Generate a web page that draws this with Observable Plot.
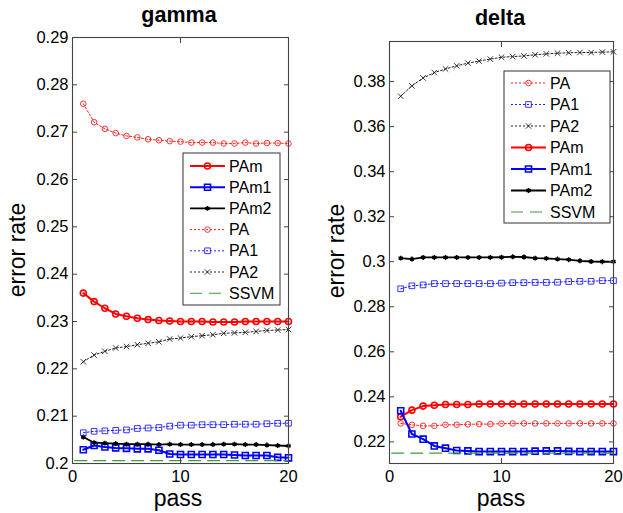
<!DOCTYPE html>
<html><head><meta charset="utf-8">
<script src="https://cdn.jsdelivr.net/npm/d3@7"></script>
<script src="https://cdn.jsdelivr.net/npm/@observablehq/plot@0.6"></script>
<style>
body{margin:0;background:#fff;font-family:"Liberation Sans",Arial,sans-serif;}
#wrap{position:relative;width:623px;height:513px;overflow:hidden;}
.panel{position:absolute;top:0;}
#overlay{position:absolute;left:0;top:0;pointer-events:none;}
</style></head><body><div id="wrap"></div>
<script>
// ---------- data ----------
const passes = [1,2,3,4,5,6,7,8,9,10,11,12,13,14,15,16,17,18,19,20];
const xTicks = [0, 10, 20];

// gamma panel
const gammaPAm  = [0.2360,0.2342,0.2328,0.2316,0.2311,0.2307,0.2304,0.2302,0.2301,0.2300,0.2300,0.2300,0.2299,0.2299,0.2299,0.2300,0.2300,0.2300,0.2300,0.2300];
const gammaPAm1 = [0.2029,0.2038,0.2035,0.2033,0.2032,0.2031,0.2031,0.2028,0.2020,0.2019,0.2019,0.2019,0.2019,0.2019,0.2018,0.2017,0.2017,0.2017,0.2013,0.2012];
const gammaPAm2 = [0.2056,0.2044,0.2043,0.2042,0.2041,0.2041,0.2041,0.2040,0.2041,0.2040,0.2040,0.2040,0.2040,0.2041,0.2041,0.2040,0.2040,0.2039,0.2038,0.2037];
const gammaPA   = [0.2760,0.2721,0.2707,0.2698,0.2692,0.2689,0.2685,0.2683,0.2681,0.2680,0.2678,0.2678,0.2678,0.2676,0.2676,0.2678,0.2676,0.2677,0.2677,0.2676];
const gammaPA1  = [0.2065,0.2068,0.2069,0.2070,0.2071,0.2074,0.2075,0.2076,0.2079,0.2081,0.2081,0.2082,0.2082,0.2082,0.2083,0.2083,0.2083,0.2084,0.2085,0.2085];
const gammaPA2  = [0.2215,0.2229,0.2237,0.2244,0.2247,0.2251,0.2254,0.2257,0.2263,0.2265,0.2268,0.2270,0.2272,0.2275,0.2276,0.2277,0.2279,0.2281,0.2282,0.2283];
const gammaSSVM = 0.2006;
const gammaYTicks = [0.2,0.21,0.22,0.23,0.24,0.25,0.26,0.27,0.28,0.29];
const gammaYDomain = [0.2, 0.29];

// delta panel
const deltaPA   = [0.2282,0.2276,0.2271,0.2271,0.2276,0.2276,0.2278,0.2279,0.2279,0.2281,0.2282,0.2282,0.2282,0.2282,0.2282,0.2282,0.2282,0.2282,0.2282,0.2282];
const deltaPA1  = [0.2880,0.2893,0.2897,0.2903,0.2903,0.2903,0.2903,0.2903,0.2903,0.2905,0.2907,0.2907,0.2908,0.2908,0.2909,0.2912,0.2913,0.2913,0.2916,0.2916];
const deltaPA2  = [0.3735,0.3781,0.3816,0.3840,0.3856,0.3870,0.3882,0.3891,0.3900,0.3908,0.3911,0.3914,0.3919,0.3923,0.3926,0.3928,0.3929,0.3929,0.3931,0.3932];
const deltaPAm  = [0.2312,0.2341,0.2359,0.2363,0.2366,0.2366,0.2366,0.2368,0.2368,0.2368,0.2368,0.2368,0.2368,0.2368,0.2368,0.2368,0.2368,0.2368,0.2368,0.2368];
const deltaPAm1 = [0.2338,0.2235,0.2212,0.2182,0.2172,0.2162,0.2160,0.2157,0.2157,0.2157,0.2157,0.2157,0.2159,0.2160,0.2160,0.2158,0.2157,0.2157,0.2157,0.2157];
const deltaPAm2 = [0.3016,0.3012,0.3019,0.3019,0.3019,0.3019,0.3019,0.3019,0.3019,0.3020,0.3022,0.3021,0.3016,0.3015,0.3012,0.3009,0.3004,0.3001,0.3000,0.3000];
const deltaSSVM = 0.2150;
const deltaYTicks = [0.22,0.24,0.26,0.28,0.3,0.32,0.34,0.36,0.38];
const deltaYDomain = [0.2104, 0.3978];

const gammaLegend = ["PAm","PAm1","PAm2","PA","PA1","PA2","SSVM"];
const deltaLegend = ["PA","PA1","PA2","PAm","PAm1","PAm2","SSVM"];

// ---------- styles ----------
const styles = {
  PAm:  {color:"#ff0000", width:2,   dash:null,   symbol:"circle",   r:3.0, sw:1.6},
  PAm1: {color:"#0000ff", width:2,   dash:null,   symbol:"square",   r:3.4, sw:1.6},
  PAm2: {color:"#000000", width:1.8, dash:null,   symbol:"asterisk", r:2.3, sw:1.5},
  PA:   {color:"#ff2020", width:1,   dash:"2,2",  symbol:"circle",   r:2.8, sw:0.9},
  PA1:  {color:"#2020ff", width:1,   dash:"2,2",  symbol:"square",   r:3.2, sw:0.9},
  PA2:  {color:"#202020", width:1,   dash:"2,2",  symbol:"times",    r:2.6, sw:0.9},
  SSVM: {color:"#3c9c3c", width:1.1, dash:"12,7", symbol:null}
};
const FONT = "Liberation Sans, Arial, sans-serif";

function seriesMarks(name, values) {
  const s = styles[name];
  const data = passes.map((p, i) => ({pass: p, value: values[i]}));
  return [
    Plot.line(data, {x:"pass", y:"value", stroke:s.color, strokeWidth:s.width, strokeDasharray:s.dash}),
    Plot.dot(data, {x:"pass", y:"value", symbol:s.symbol, r:s.r, stroke:s.color, strokeWidth:s.sw, fill:"none"})
  ];
}
function ssvmMarks(value) {
  const s = styles.SSVM;
  const data = [{pass: xTicks[0] + 0.2, value}, {pass: xTicks[2], value}];
  return Plot.line(data, {x:"pass", y:"value", stroke:s.color, strokeWidth:s.width, strokeDasharray:s.dash});
}

function makePanel(cfg) {
  const fmt = d => String(d);
  const axisColor = "#444";
  const marks = [];
  for (const [name, vals] of cfg.series) marks.push(...seriesMarks(name, vals));
  marks.push(ssvmMarks(cfg.ssvm));
  marks.push(
    Plot.axisY({ticks: cfg.yTicks, tickSize:-5, tickPadding:9, tickFormat: fmt, label:null, fontSize:16.5, stroke:axisColor, fill:"#000"}),
    Plot.axisY({anchor:"right", ticks: cfg.yTicks, tickSize:-5, tickFormat: () => "", label:null, stroke:axisColor}),
    Plot.axisX({ticks: xTicks, tickSize:-5, tickPadding:12, tickFormat: fmt, label:null, fontSize:16.5, stroke:axisColor, fill:"#000"}),
    Plot.axisX({anchor:"top", ticks: xTicks, tickSize:-5, tickFormat: () => "", label:null, stroke:axisColor}),
    Plot.frame({stroke: axisColor, strokeWidth: 1.1})
  );
  const svg = Plot.plot({
    width: cfg.width, height: 513,
    marginLeft: cfg.ml, marginRight: cfg.mr, marginTop: cfg.mt, marginBottom: 50,
    style: {fontFamily: FONT, fontSize: "16.5px", color: "#000", background: "transparent", overflow: "visible"},
    x: {domain: [xTicks[0], xTicks[2]]},
    y: {domain: cfg.yDomain},
    marks
  });
  svg.classList.add("panel");
  svg.style.left = cfg.left + "px";
  return svg;
}

const wrap = document.getElementById("wrap");
wrap.appendChild(makePanel({
  left: 0, width: 310, ml: 72, mr: 22, mt: 37,
  yDomain: gammaYDomain, yTicks: gammaYTicks, ssvm: gammaSSVM,
  series: [["PAm",gammaPAm],["PAm1",gammaPAm1],["PAm2",gammaPAm2],["PA",gammaPA],["PA1",gammaPA1],["PA2",gammaPA2]]
}));
wrap.appendChild(makePanel({
  left: 310, width: 313, ml: 79, mr: 10, mt: 41,
  yDomain: deltaYDomain, yTicks: deltaYTicks, ssvm: deltaSSVM,
  series: [["PA",deltaPA],["PA1",deltaPA1],["PA2",deltaPA2],["PAm",deltaPAm],["PAm1",deltaPAm1],["PAm2",deltaPAm2]]
}));

// ---------- overlay: titles, axis labels, legends ----------
const ov = d3.select(wrap).append("svg").attr("id","overlay").attr("width",623).attr("height",513)
  .style("font-family", FONT);

function addText(x, y, txt, size, weight, rotate) {
  const t = ov.append("text").attr("text-anchor","middle").attr("font-size",size).attr("font-weight",weight||"normal")
    .attr("fill","#000").text(txt);
  if (rotate) t.attr("transform",`translate(${x},${y}) rotate(-90)`);
  else t.attr("x",x).attr("y",y);
}
addText(179, 22, "gamma", 21.5, "bold");
addText(500, 25, "delta", 21.5, "bold");
addText(178, 506, "pass", 23);
addText(501, 506, "pass", 23);
addText(25, 250, "error rate", 23, "normal", true);
addText(344, 251, "error rate", 23, "normal", true);

const symMap = {circle: d3.symbolCircle, square: d3.symbolSquare, asterisk: d3.symbolAsterisk, times: d3.symbolTimes};
function legend(names, box) {
  const g = ov.append("g");
  g.append("rect").attr("x",box.x).attr("y",box.y).attr("width",box.w).attr("height",box.h)
    .attr("fill","#fff").attr("stroke","#333").attr("stroke-width",1);
  names.forEach((name, i) => {
    const s = styles[name];
    const y = box.y0 + i * box.dy;
    g.append("line").attr("x1",box.x+7).attr("x2",box.x+42).attr("y1",y).attr("y2",y)
      .attr("stroke",s.color).attr("stroke-width",s.width).attr("stroke-dasharray",s.dash);
    if (s.symbol) {
      g.append("path").attr("d", d3.symbol(symMap[s.symbol], s.r*s.r*Math.PI)())
        .attr("transform",`translate(${box.x+24.5},${y})`)
        .attr("fill","none").attr("stroke",s.color).attr("stroke-width",s.sw);
    }
    g.append("text").attr("x",box.x+46).attr("y",y).attr("dy","0.35em").attr("font-size",16)
      .attr("fill","#000").text(name);
  });
}
legend(gammaLegend, {x:183, y:153, w:97, h:152, y0:166, dy:21.2});
legend(deltaLegend, {x:504, y:71, w:106, h:152, y0:83, dy:21.5});
</script></body></html>
